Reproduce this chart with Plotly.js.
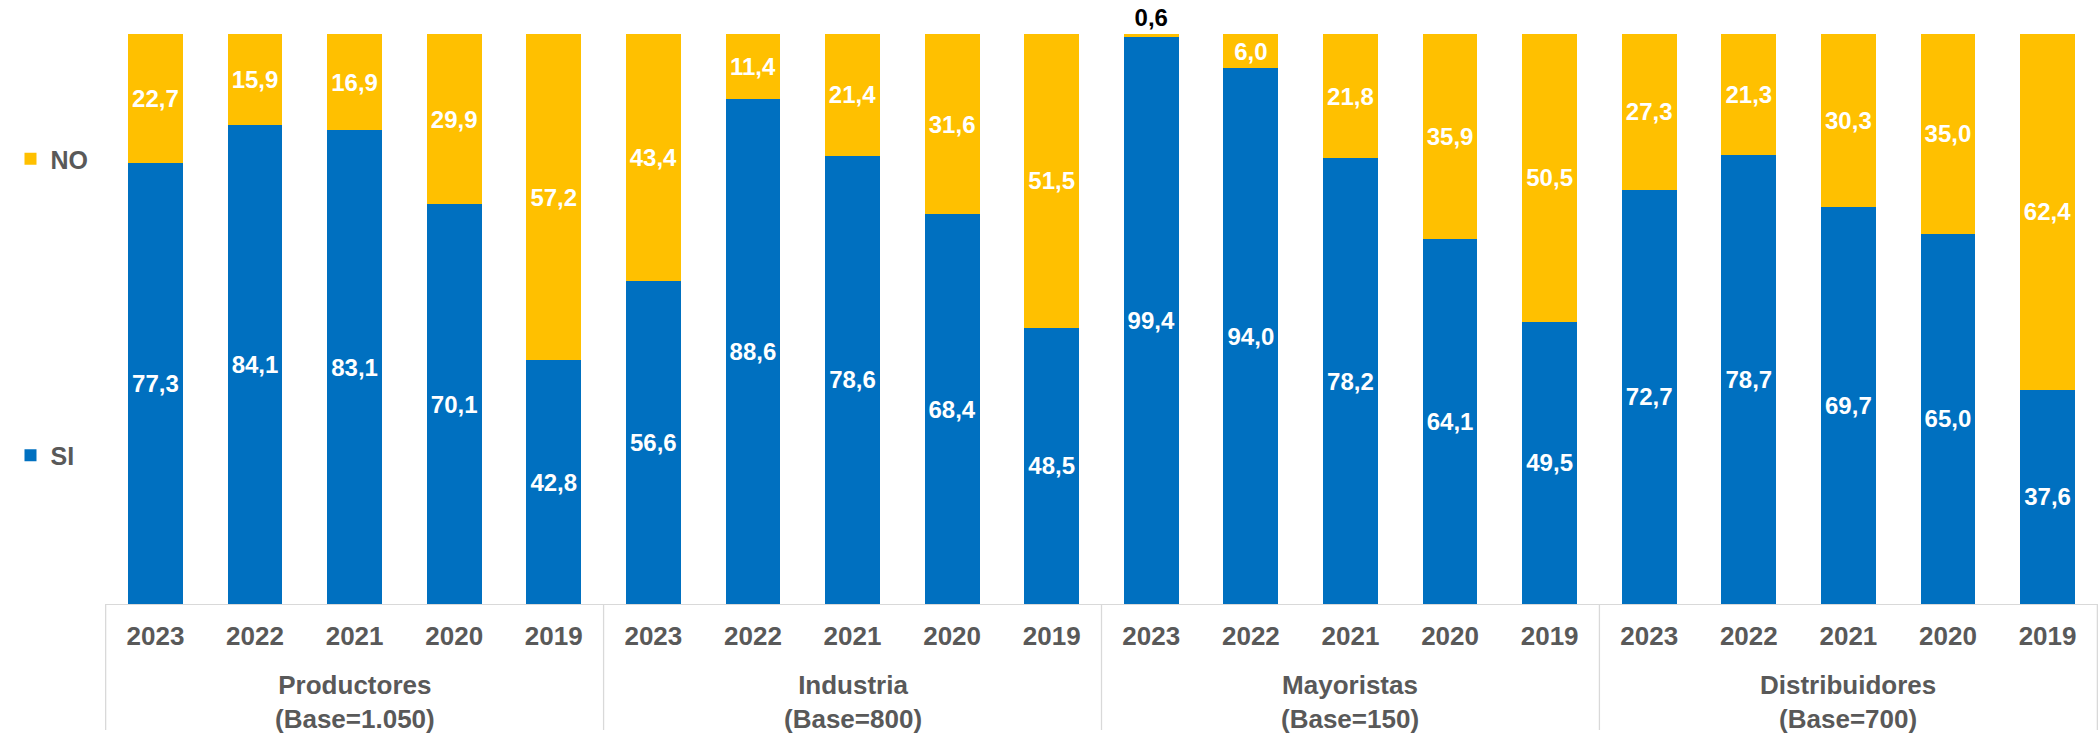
<!DOCTYPE html>
<html>
<head>
<meta charset="utf-8">
<script src="https://cdn.plot.ly/plotly-3.0.1.min.js"></script>
<style>html,body{margin:0;padding:0;background:#fff;}#chart{width:2099px;height:735px;}</style>
</head>
<body>
<div id="chart"></div>
<script>
// Categories
const groupNames = ['Productores', 'Industria', 'Mayoristas', 'Distribuidores'];
const groupBases = ['(Base=1.050)', '(Base=800)', '(Base=150)', '(Base=700)'];
const years = ['2023', '2022', '2021', '2020', '2019'];

// Series values (%), per group, in year order above
const siProductores = [77.3, 84.1, 83.1, 70.1, 42.8];
const noProductores = [22.7, 15.9, 16.9, 29.9, 57.2];
const siIndustria = [56.6, 88.6, 78.6, 68.4, 48.5];
const noIndustria = [43.4, 11.4, 21.4, 31.6, 51.5];
const siMayoristas = [99.4, 94.0, 78.2, 64.1, 49.5];
const noMayoristas = [0.6, 6.0, 21.8, 35.9, 50.5];
const siDistribuidores = [72.7, 78.7, 69.7, 65.0, 37.6];
const noDistribuidores = [27.3, 21.3, 30.3, 35.0, 62.4];

const siAll = [].concat(siProductores, siIndustria, siMayoristas, siDistribuidores);
const noAll = [].concat(noProductores, noIndustria, noMayoristas, noDistribuidores);

// unique category keys (group + year), shown as the year
const xKeys = [], xText = [];
groupNames.forEach(g => years.forEach(y => { xKeys.push(g + ' ' + y); xText.push(y); }));

const FONT = 'Liberation Sans, Arial, sans-serif';
const BLUE = '#0070C0';
const YELLOW = '#FFC000';
const GREY_TEXT = '#595959';
const GREY_LINE = '#D9D9D9';

const noPositions = noAll.map(v => v < 3 ? 'outside' : 'inside');

const traceSI = {
  type: 'bar', name: 'SI', legendgroup: 'si', legendrank: 2,
  x: xKeys, y: siAll,
  marker: {color: BLUE},
  texttemplate: '%{y:.1f}', textposition: 'inside', insidetextanchor: 'middle',
  insidetextfont: {family: FONT, size: 24, color: '#FFFFFF', weight: 'bold'},
  hoverinfo: 'skip'
};
const traceNO = {
  type: 'bar', name: 'NO', legendgroup: 'no', legendrank: 1,
  x: xKeys, y: noAll,
  marker: {color: YELLOW},
  texttemplate: '%{y:.1f}', textposition: noPositions, insidetextanchor: 'middle',
  insidetextfont: {family: FONT, size: 24, color: '#FFFFFF', weight: 'bold'},
  outsidetextfont: {family: FONT, size: 24, color: '#000000', weight: 'bold'},
  cliponaxis: false,
  hoverinfo: 'skip'
};

// group labels and dividers placed through the x axis (category index)
const nY = years.length;
const PLOT_H = 570; // plot area height in px (for paper fractions)
const annotations = groupNames.map((g, i) => ({
  xref: 'x', yref: 'paper',
  x: i * nY + (nY - 1) / 2, y: -(64 / PLOT_H),
  yanchor: 'top', xanchor: 'center', showarrow: false,
  text: g + '<br>' + groupBases[i],
  font: {family: FONT, size: 26, color: GREY_TEXT, weight: 'bold'}
}));
const shapes = [];
for (let i = 0; i <= groupNames.length; i++) {
  shapes.push({
    type: 'line', xref: 'x', yref: 'paper',
    x0: i * nY - 0.5, x1: i * nY - 0.5, y0: 0, y1: -(126 / PLOT_H),
    line: {color: GREY_LINE, width: 1.3}
  });
}

const layout = {
  width: 2099, height: 735,
  margin: {l: 105, r: 1, t: 34, b: 131},
  paper_bgcolor: '#FFFFFF', plot_bgcolor: '#FFFFFF',
  separators: ',.',
  barmode: 'stack',
  bargap: 0.45,
  font: {family: FONT, color: GREY_TEXT},
  showlegend: true,
  legend: {
    xref: 'container', yref: 'container',
    x: 0.005, xanchor: 'left', y: 1 - 136 / 735, yanchor: 'top',
    traceorder: 'grouped', tracegroupgap: 261,
    font: {family: FONT, size: 25, color: GREY_TEXT, weight: 'bold'},
    bgcolor: 'rgba(0,0,0,0)', itemclick: false, itemdoubleclick: false
  },
  xaxis: {
    type: 'category',
    tickmode: 'array', tickvals: xKeys, ticktext: xText,
    showline: true, linecolor: GREY_LINE, linewidth: 1.3,
    showgrid: false, ticks: '', ticklabelstandoff: 8,
    tickfont: {family: FONT, size: 26, color: GREY_TEXT, weight: 'bold'},
    fixedrange: true
  },
  yaxis: {
    range: [0, 100], visible: false, showgrid: false, zeroline: false, fixedrange: true
  },
  annotations: annotations,
  shapes: shapes
};

Plotly.newPlot('chart', [traceSI, traceNO], layout, {displayModeBar: false, staticPlot: true});
</script>
</body>
</html>
